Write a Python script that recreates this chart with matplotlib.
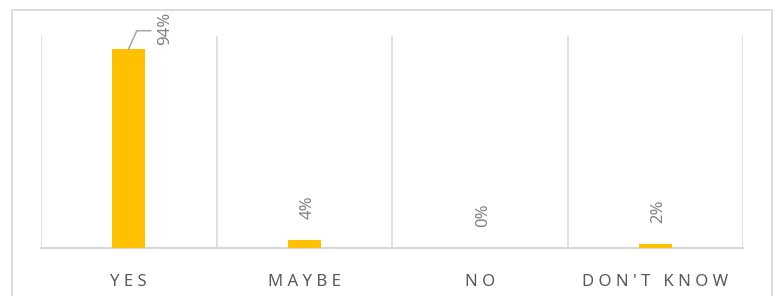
import matplotlib
matplotlib.use("Agg")
import matplotlib.pyplot as plt
from matplotlib.lines import Line2D
from matplotlib.transforms import offset_copy

categories = ["YES", "MAYBE", "NO", "DON'T KNOW"]
values = [0.94, 0.04, 0.00, 0.02]
labels = ["94%", "4%", "0%", "2%"]

BAR = "#FFC000"
GRID = "#D9D9D9"
LBL = "#808080"
TICK = "#595959"
FAM = ["Noto Sans", "DejaVu Sans"]

W, H = 776, 296
fig = plt.figure(figsize=(W / 100, H / 100), dpi=100)
ax = fig.add_axes([41 / W, (H - 248) / H, (743 - 41) / W, (248 - 36) / H])

x = list(range(len(categories)))
ax.bar(x, values, width=0.19, color=BAR, zorder=3)
ax.set_xlim(-0.5, len(categories) - 0.5)
ax.set_ylim(0, 1.0)

# vertical category separators
for b in [i - 0.5 for i in range(len(categories) + 1)]:
    ax.axvline(b, color=GRID, lw=1.1, zorder=1)

for s in ["top", "right", "left"]:
    ax.spines[s].set_visible(False)
ax.spines["bottom"].set_color(GRID)
ax.spines["bottom"].set_linewidth(1.6)
ax.set_yticks([])
ax.set_xticks(x)
spaced = ["\u2009\u200a".join(list(c)) for c in categories]
ax.set_xticklabels(spaced, fontsize=12, color=TICK, family=FAM)
ax.tick_params(axis="x", length=0, pad=19)

LFONT = dict(fontsize=12, color=LBL, family=FAM, clip_on=False)
for i, (v, t) in enumerate(zip(values, labels)):
    if i == 0:
        p0 = ax.transData.transform((i, v))
        p1 = (p0[0] + 8, p0[1] + 18)
        p2 = (p0[0] + 22, p0[1] + 18)
        inv = fig.transFigure.inverted()
        pts = inv.transform([p0, p1, p2])
        fig.add_artist(Line2D(pts[:, 0], pts[:, 1], color="#A6A6A6", lw=1.1,
                              transform=fig.transFigure))
        tr = offset_copy(ax.transData, fig=fig, x=36, y=20, units="dots")
        ax.text(i, v, t, transform=tr, rotation=90, ha="center", va="center", **LFONT)
    else:
        tr = offset_copy(ax.transData, fig=fig, x=3, y=21, units="dots")
        ax.text(i, v, t, transform=tr, rotation=90, ha="center", va="bottom", **LFONT)

# outer chart border (cut at bottom)
bx = [12 / W, 12 / W, 772 / W, 772 / W]
by = [0, 1 - 10 / H, 1 - 10 / H, 0]
fig.add_artist(Line2D(bx, by, color=GRID, lw=1.3, transform=fig.transFigure))

fig.savefig("out.png", dpi=100)
